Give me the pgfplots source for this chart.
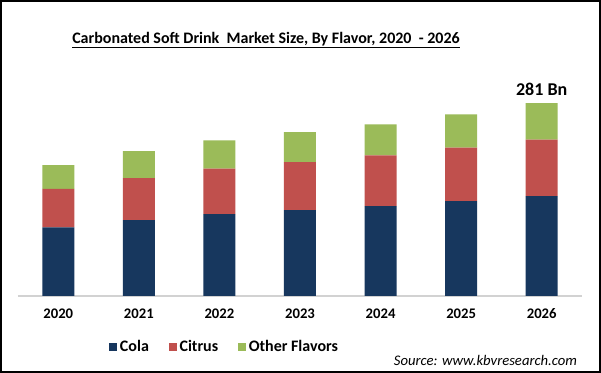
\documentclass[border=0pt]{standalone}
\usepackage{pgfplots}
\pgfplotsset{compat=1.18}
\usepackage{fontspec}
\setmainfont{Carlito}
\definecolor{cola}{HTML}{17375E}
\definecolor{citrus}{HTML}{C0504D}
\definecolor{other}{HTML}{9BBB59}
\begin{document}
\begin{tikzpicture}[x=0.75pt,y=0.75pt]
\useasboundingbox (0,0) rectangle (601,373);
\fill[white] (0,0) rectangle (601,373);
\draw[line width=1.2pt] (0.8,0.8) rectangle (600.2,372.2);
\begin{axis}[
  at={(13.5pt,57.75pt)}, anchor=south west,
  scale only axis, width=423pt, height=154.5pt,
  clip=false,
  ybar stacked, bar width=24pt,
  ymin=0, ymax=300, xmin=-0.5, xmax=6.5,
  axis y line=none, axis x line*=bottom,
  x axis line style={draw=gray!35, line width=0.8pt, -},
  xtick={0,1,2,3,4,5,6},
  xticklabels={2020,2021,2022,2023,2024,2025,2026},
  major tick length=0pt,
  xticklabel style={font=\bfseries\fontsize{11}{13}\selectfont, anchor=base, yshift=-17pt},
  legend style={at={(0.367,-0.246)}, anchor=center, draw=none, fill=none,
    legend columns=-1, font=\bfseries\fontsize{12}{14}\selectfont,
    /tikz/every even column/.append style={column sep=13pt}},
  legend image code/.code={\fill[#1] (0pt,-3pt) rectangle (6pt,3pt);},
]
\addplot[fill=cola, draw=none] coordinates {(0,99.9) (1,110.5) (2,119.2) (3,125) (4,130.8) (5,138.1) (6,145.4)};
\addplot[fill=citrus, draw=none] coordinates {(0,56.1) (1,61.1) (2,66.4) (3,69.8) (4,74.1) (5,78.1) (6,82.4)};
\addplot[fill=other, draw=none] coordinates {(0,34.5) (1,39.3) (2,41.1) (3,44) (4,45.1) (5,48.4) (6,53.2)};
\legend{Cola, Citrus, Other Flavors}
\node[font=\bfseries\fontsize{13.5}{15}\selectfont, anchor=base, yshift=6pt] at (axis cs:6,281) {281 Bn};
\end{axis}
\node[font=\bfseries\fontsize{12}{14}\selectfont] at (266,333) {\underline{Carbonated Soft Drink\ \ Market Size, By Flavor, 2020\ \ - 2026}};
\node[font=\itshape\fontsize{11}{13}\selectfont, anchor=east] at (581.7,13) {Source: www.kbvresearch.com};
\end{tikzpicture}
\end{document}
